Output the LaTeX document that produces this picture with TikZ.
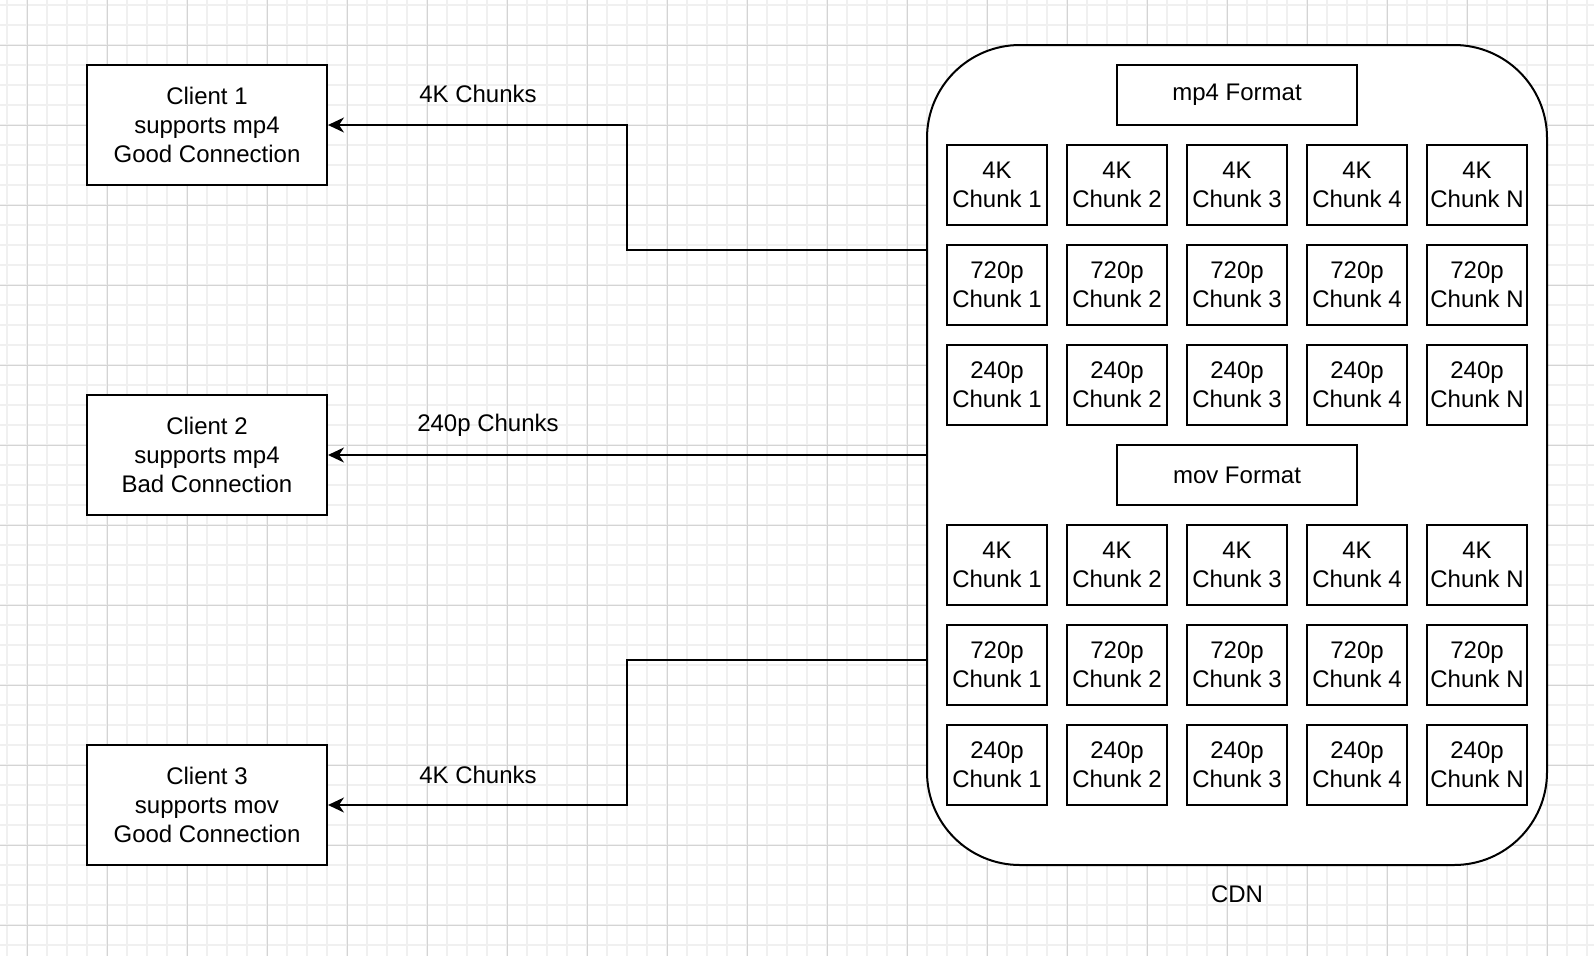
\documentclass[tikz,border=0pt]{standalone}
\usepackage{fontspec}
\setmainfont{Liberation Sans}
\usetikzlibrary{arrows.meta,calc}
\definecolor{gridminor}{RGB}{240,240,240}
\definecolor{gridmajor}{RGB}{212,212,212}
\begin{document}
\begin{tikzpicture}[x=1pt,y=-1pt,
  box/.style={draw=black, line width=2pt, fill=white, align=center, inner sep=0pt, font=\fontsize{24}{28.8}\selectfont},
  client/.style={box, minimum width=240pt, minimum height=120pt},
  chunk/.style={box, minimum width=100pt, minimum height=80pt},
  fmt/.style={box, minimum width=240pt, minimum height=60pt},
  lbl/.style={font=\fontsize{24}{28.8}\selectfont, inner sep=0pt},
  conn/.style={line width=2pt, -{Stealth[length=16pt,width=15pt,inset=5pt]}},
]
\fill[white] (0,0) rectangle (1594,956);
\useasboundingbox (0,0) rectangle (1594,956);
% grid
\foreach \x in {7,27,...,1594} \draw[gridminor, line width=1.5pt] (\x,0) -- (\x,956);
\foreach \y in {5,25,...,956} \draw[gridminor, line width=1.5pt] (0,\y) -- (1594,\y);
\foreach \x in {27,107,...,1594} \draw[gridmajor, line width=1pt] (\x,0) -- (\x,956);
\foreach \y in {45,125,...,956} \draw[gridmajor, line width=1pt] (0,\y) -- (1594,\y);

% clients
\node[client] (c1) at (207,125) {Client 1\\supports mp4\\Good Connection};
\node[client] (c2) at (207,455) {Client 2\\supports mp4\\Bad Connection};
\node[client] (c3) at (207,805) {Client 3\\supports mov\\Good Connection};

% CDN
\node[draw=black, line width=2pt, fill=white, rounded corners=93pt, minimum width=620pt, minimum height=820pt, inner sep=0pt] (cdn) at (1237,455) {};
\node[lbl] (cdnlbl) at (1237,894) {CDN};

\node[fmt] (mp4) at (1237,95) {mp4 Format};
\node[fmt] (mov) at (1237,475) {mov Format};

\foreach \r/\q/\y in {a/4K/185, b/720p/285, c/240p/385, d/4K/565, e/720p/665, f/240p/765} {
  \foreach \c/\n/\x in {1/1/997, 2/2/1117, 3/3/1237, 4/4/1357, 5/N/1477} {
    \node[chunk] (ch\r\c) at (\x,\y) {\q\\Chunk \n};
  }
}

% connectors
\coordinate (m1) at ($(c1.east)!0.5!(cdn.west)$);
\coordinate (m3) at ($(c3.east)!0.5!(cdn.west)$);
\draw[conn] ([yshift=205pt]cdn.west) -| (m1 |- c1.east) -- (c1.east);
\draw[conn] (cdn.west) -- (c2.east);
\draw[conn] ([yshift=-205pt]cdn.west) -| (m3 |- c3.east) -- (c3.east);

\node[lbl] (l1) at (478,94) {4K Chunks};
\node[lbl] (l2) at (488,425) {240p Chunks};
\node[lbl] (l3) at (478,775) {4K Chunks};
\end{tikzpicture}
\end{document}
